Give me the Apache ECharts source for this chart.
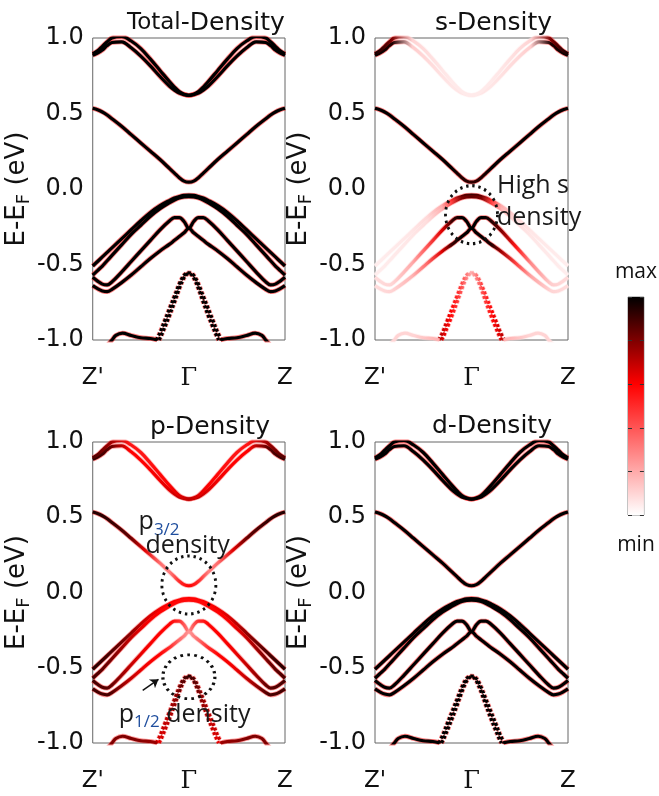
<!DOCTYPE html>
<html>
<head>
<meta charset="utf-8">
<script src="https://cdn.jsdelivr.net/npm/echarts@6/dist/echarts.min.js"></script>
<style>
  html, body { margin: 0; padding: 0; background: #fff; }
  #chart { width: 659px; height: 796px; }
</style>
</head>
<body>
<div id="chart"></div>
<script>
// ---- band structure along Z' - Γ - Z (k in units of the path, E - E_F in eV) ----
const K_FULL = [-1,-0.95,-0.9,-0.85,-0.8,-0.7,-0.6,-0.5,-0.4,-0.3,-0.2,-0.15,-0.1,-0.05,0,0.05,0.1,0.15,0.2,0.3,0.4,0.5,0.6,0.7,0.8,0.85,0.9,0.95,1];

const E_C1 = [0.885,0.9,0.92,0.95,0.97,0.975,0.935,0.88,0.815,0.745,0.68,0.655,0.635,0.625,0.62,0.625,0.635,0.655,0.68,0.745,0.815,0.88,0.935,0.975,0.97,0.95,0.92,0.9,0.885];
const E_C2 = [0.895,0.915,0.945,0.975,1.0,1.01,0.98,0.93,0.86,0.785,0.71,0.675,0.645,0.628,0.62,0.628,0.645,0.675,0.71,0.785,0.86,0.93,0.98,1.01,1.0,0.975,0.945,0.915,0.895];
const E_CB = [0.535,0.525,0.51,0.49,0.465,0.415,0.36,0.305,0.25,0.195,0.135,0.105,0.075,0.052,0.045,0.052,0.075,0.105,0.135,0.195,0.25,0.305,0.36,0.415,0.465,0.49,0.51,0.525,0.535];
const E_V1 = [-0.51,-0.48,-0.45,-0.42,-0.39,-0.33,-0.27,-0.21,-0.155,-0.11,-0.075,-0.06,-0.05,-0.042,-0.04,-0.042,-0.05,-0.06,-0.075,-0.11,-0.155,-0.21,-0.27,-0.33,-0.39,-0.42,-0.45,-0.48,-0.51];
const E_V2 = [-0.57,-0.54,-0.51,-0.475,-0.44,-0.37,-0.3,-0.24,-0.18,-0.13,-0.09,-0.073,-0.06,-0.053,-0.05,-0.053,-0.06,-0.073,-0.09,-0.13,-0.18,-0.24,-0.3,-0.37,-0.44,-0.475,-0.51,-0.54,-0.57];
const E_M1 = [-0.585,-0.61,-0.63,-0.635,-0.615,-0.55,-0.48,-0.41,-0.34,-0.27,-0.21,-0.19,-0.19,-0.215,-0.26,-0.215,-0.19,-0.19,-0.21,-0.27,-0.34,-0.41,-0.48,-0.55,-0.615,-0.635,-0.63,-0.61,-0.585];
const E_M2 = [-0.64,-0.66,-0.675,-0.68,-0.665,-0.62,-0.57,-0.515,-0.46,-0.41,-0.365,-0.34,-0.315,-0.29,-0.26,-0.29,-0.315,-0.34,-0.365,-0.41,-0.46,-0.515,-0.57,-0.62,-0.665,-0.68,-0.675,-0.66,-0.64];

// steep bands below the gap (drawn dotted)
const K_L1 = [-0.34,-0.3,-0.25,-0.2,-0.15,-0.1,-0.06,-0.03,0,0.03,0.06,0.1,0.15,0.2,0.25,0.3,0.34];
const E_L1 = [-1.0,-0.95,-0.87,-0.79,-0.71,-0.63,-0.58,-0.56,-0.555,-0.56,-0.58,-0.63,-0.71,-0.79,-0.87,-0.95,-1.0];
const K_L2 = [-0.31,-0.29,-0.25,-0.2,-0.15,-0.1,-0.06,-0.03,0,0.03,0.06,0.1,0.15,0.2,0.25,0.29,0.31];
const E_L2 = [-1.0,-0.975,-0.915,-0.835,-0.75,-0.66,-0.6,-0.57,-0.56,-0.57,-0.6,-0.66,-0.75,-0.835,-0.915,-0.975,-1.0];

// shallow band at the bottom edge
const K_BL = [-0.84,-0.8,-0.76,-0.69,-0.6,-0.5,-0.4,-0.33];
const E_BL = [-1.03,-1.0,-0.97,-0.955,-0.97,-0.985,-0.99,-1.0];
const K_BR = [0.33,0.4,0.5,0.6,0.69,0.76,0.8,0.84];
const E_BR = [-1.0,-0.99,-0.985,-0.97,-0.955,-0.97,-1.0,-1.03];

// k positions where the orbital weight is sampled
const W_NODES = [-1,-0.8,-0.6,-0.45,-0.3,-0.2,-0.1,0,0.1,0.2,0.3,0.45,0.6,0.8,1];
const W_NODES_L = [-0.34,-0.2,-0.1,0,0.1,0.2,0.34];
const W_NODES_BL = [-0.84,-0.6,-0.33];
const W_NODES_BR = [0.33,0.6,0.84];

// weights (0 = min, 1 = max), band order: C1, C2, CB, V1, V2, M1, M2, L1, L2, BL, BR
const W_TOTAL = [1,1,1,1,1,1,1,1,1,1,1];
const W_D = [1,1,1,1,1,1,1,1,1,1,1];
const W_S = [
  [1,0.95,0.12,0.09,0.07,0.06,0.06,0.06,0.06,0.06,0.07,0.09,0.12,0.95,1],
  [1,0.8,0.1,0.08,0.06,0.05,0.05,0.05,0.05,0.05,0.06,0.08,0.1,0.8,1],
  [1,1,1,1,1,1,0.95,0.92,0.95,1,1,1,1,1,1],
  [0.04,0.05,0.06,0.09,0.2,0.5,0.85,0.9,0.85,0.5,0.2,0.09,0.06,0.05,0.04],
  [0.04,0.05,0.06,0.08,0.18,0.45,0.8,0.85,0.8,0.45,0.18,0.08,0.06,0.05,0.04],
  [0.08,0.1,0.2,0.4,0.65,0.9,1,1,1,0.95,0.8,0.55,0.28,0.12,0.08],
  [0.08,0.1,0.18,0.35,0.65,0.9,1,1,1,0.95,0.75,0.45,0.22,0.1,0.08],
  [0.75,0.6,0.45,0.2,0.45,0.6,0.75],
  [0.7,0.58,0.42,0.2,0.42,0.58,0.7],
  [0.1,0.1,0.2],
  [0.2,0.1,0.1]
];
const W_P = [
  [0.95,0.85,0.6,0.6,0.62,0.65,0.7,0.75,0.7,0.65,0.62,0.6,0.6,0.85,0.95],
  [0.9,0.75,0.55,0.55,0.58,0.6,0.65,0.7,0.65,0.6,0.58,0.55,0.55,0.75,0.9],
  [0.95,0.92,0.85,0.65,0.35,0.3,0.5,0.6,0.5,0.3,0.35,0.65,0.85,0.92,0.95],
  [0.95,0.88,0.78,0.68,0.62,0.6,0.6,0.6,0.6,0.6,0.62,0.68,0.78,0.88,0.95],
  [0.9,0.82,0.7,0.62,0.6,0.58,0.58,0.58,0.58,0.58,0.6,0.62,0.7,0.82,0.9],
  [0.9,0.85,0.7,0.62,0.6,0.6,0.5,0.3,0.5,0.6,0.6,0.62,0.7,0.85,0.9],
  [0.9,0.88,0.7,0.62,0.6,0.5,0.35,0.25,0.35,0.5,0.6,0.62,0.7,0.88,0.9],
  [0.65,0.72,0.82,0.95,0.82,0.72,0.65],
  [0.62,0.7,0.8,0.92,0.8,0.7,0.62],
  [0.8,0.8,0.75],
  [0.75,0.8,0.8]
];

const PANEL_TITLES = ['Total-Density', 's-Density', 'p-Density', 'd-Density'];
const X_TICK_LABELS = ["Z'", 'Γ', 'Z'];
const Y_TICKS = [-1, -0.5, 0, 0.5, 1];
const COLORBAR_LABELS = ['max', 'min'];

// ---- build ----
const BANDS = [
  { k: K_FULL, e: E_C1, wk: W_NODES },
  { k: K_FULL, e: E_C2, wk: W_NODES },
  { k: K_FULL, e: E_CB, wk: W_NODES },
  { k: K_FULL, e: E_V1, wk: W_NODES },
  { k: K_FULL, e: E_V2, wk: W_NODES },
  { k: K_FULL, e: E_M1, wk: W_NODES },
  { k: K_FULL, e: E_M2, wk: W_NODES },
  { k: K_L1, e: E_L1, wk: W_NODES_L, dotted: true },
  { k: K_L2, e: E_L2, wk: W_NODES_L, dotted: true },
  { k: K_BL, e: E_BL, wk: W_NODES_BL },
  { k: K_BR, e: E_BR, wk: W_NODES_BR }
];
const PANEL_WEIGHTS = [W_TOTAL, W_S, W_P, W_D];

// white -> red (at 0.6) -> black
function cmap(w) {
  w = Math.max(0, Math.min(1, w));
  let r, g;
  if (w <= 0.6) { const t = w / 0.6; r = 255; g = Math.round(255 * (1 - t)); }
  else { const t = (w - 0.6) / 0.4; r = Math.round(255 * (1 - t)); g = 0; }
  return 'rgb(' + r + ',' + g + ',' + g + ')';
}

function bandColor(band, weights, fringe) {
  const f = w => cmap(fringe ? w * 0.6 : w);
  if (typeof weights === 'number') return f(weights);
  const k0 = band.k[0], k1 = band.k[band.k.length - 1];
  const stops = band.wk.map((kk, i) => ({
    offset: Math.max(0, Math.min(1, (kk - k0) / (k1 - k0))),
    color: f(weights[i])
  }));
  return new echarts.graphic.LinearGradient(0, 0, 1, 0, stops);
}

const GRIDS = [
  { left: 92, top: 38, width: 193, height: 302 },
  { left: 375, top: 38, width: 193, height: 302 },
  { left: 92, top: 442, width: 193, height: 301 },
  { left: 375, top: 442, width: 193, height: 301 }
];

const TXT = '#111';
const grid = GRIDS.map(g => Object.assign({ show: true, borderColor: '#666', borderWidth: 1, backgroundColor: '#fff' }, g));
grid.push({ left: 628, top: 297, width: 19, height: 218, show: true, borderColor: '#888', borderWidth: 1 });

const xAxis = GRIDS.map((g, i) => ({
  gridIndex: i, type: 'value', min: -1, max: 1, interval: 1,
  axisLine: { show: false }, axisTick: { show: false }, splitLine: { show: false },
  axisLabel: {
    margin: 27, fontSize: 23, color: TXT, fontFamily: 'DejaVu Sans',
    formatter: v => v === 0 ? '{g|' + X_TICK_LABELS[1] + '}' : (v < 0 ? X_TICK_LABELS[0] : X_TICK_LABELS[2]),
    rich: { g: { fontFamily: 'DejaVu Serif', fontSize: 24, color: TXT } }
  }
}));
xAxis.push({
  gridIndex: 4, type: 'category', data: ['bar'], axisLine: { show: false }, axisTick: { show: false }, axisLabel: { show: false },
  name: COLORBAR_LABELS[1], nameLocation: 'middle', nameGap: 20,
  nameTextStyle: { fontFamily: 'Open Sans', fontSize: 21, color: TXT }
});
xAxis.push({
  gridIndex: 4, type: 'category', position: 'top', data: ['bar'], axisLine: { show: false }, axisTick: { show: false }, axisLabel: { show: false },
  name: COLORBAR_LABELS[0], nameLocation: 'middle', nameGap: 14,
  nameTextStyle: { fontFamily: 'Open Sans', fontSize: 21, color: TXT }
});

const yAxis = GRIDS.map((g, i) => ({
  gridIndex: i, type: 'value', min: Y_TICKS[0], max: Y_TICKS[Y_TICKS.length - 1], interval: 0.5,
  axisLine: { show: false }, axisTick: { show: false }, splitLine: { show: false },
  axisLabel: { margin: 9, fontSize: 24, color: TXT, fontFamily: 'DejaVu Sans', formatter: v => v.toFixed(1) },
  name: 'E-E{sub|F} (eV)', nameLocation: 'middle', nameGap: 57,
  nameTextStyle: {
    fontSize: 26, color: TXT, fontFamily: 'DejaVu Sans', lineHeight: 32,
    rich: { sub: { fontSize: 18, lineHeight: 18, verticalAlign: 'bottom', color: TXT, fontFamily: 'DejaVu Sans' } }
  }
}));
const cbTicks = {
  gridIndex: 4, type: 'value', min: 0, max: 1, interval: 0.2, z: 5,
  axisLine: { show: false }, splitLine: { show: false }, axisLabel: { show: false },
  axisTick: { show: true, inside: true, length: 4, lineStyle: { color: '#333', width: 1 } }
};
yAxis.push(Object.assign({}, cbTicks));
yAxis.push(Object.assign({}, cbTicks, { position: 'right' }));

const series = [];
PANEL_WEIGHTS.forEach((pw, gi) => {
  BANDS.forEach((band, bi) => {
    const data = band.k.map((k, j) => [k, band.e[j]]);
    const dash = band.dotted ? [3, 2] : 'solid';
    const common = { type: 'line', xAxisIndex: gi, yAxisIndex: gi, data, smooth: 0.35, symbol: 'none', silent: true, animation: false };
    series.push(Object.assign({}, common, {
      z: 2, lineStyle: { width: 4.8, color: bandColor(band, pw[bi], true), opacity: 0.5, type: dash, cap: 'butt' }
    }));
    series.push(Object.assign({}, common, {
      z: 3, lineStyle: { width: 3.2, color: bandColor(band, pw[bi], false), opacity: 1, type: dash, cap: 'butt' }
    }));
  });
});

// dotted circles marking regions of interest
const ring = (gi, pts, size) => ({
  type: 'scatter', xAxisIndex: gi, yAxisIndex: gi, symbol: 'circle', symbolSize: size, silent: true, z: 6, animation: false,
  itemStyle: { color: 'rgba(0,0,0,0)', borderColor: '#111', borderWidth: 3, borderType: [2.5, 4], opacity: 1 },
  data: pts
});
series.push(ring(1, [[0, -0.17]], [52, 58]));
series.push(ring(2, [[0, 0.05]], [54, 58]));
series.push(ring(2, [[0, -0.56]], [52, 44]));

// text notes, anchored in data space
const note = (gi, items) => ({
  type: 'custom', xAxisIndex: gi, yAxisIndex: gi, silent: true, z: 7, animation: false,
  data: items.map(it => it.value),
  renderItem: (params, api) => {
    const p = api.coord([api.value(0), api.value(1)]);
    return {
      type: 'text', x: p[0], y: p[1],
      style: {
        text: items[params.dataIndex].name,
        fontFamily: 'Open Sans', fontSize: 25, fill: '#1a1a1a',
        verticalAlign: 'middle', align: 'left', lineHeight: 32,
        rich: { sub: { fontFamily: 'Open Sans', fontSize: 17, lineHeight: 17, verticalAlign: 'bottom', fill: '#1f4e9e' } }
      }
    };
  }
});
series.push(note(1, [{ name: 'High s', value: [0.264, 0.02] }, { name: 'density', value: [0.264, -0.19] }]));
series.push(note(2, [
  { name: 'p{sub|3/2}', value: [-0.523, 0.466] },
  { name: 'density', value: [-0.451, 0.313] },
  { name: 'p{sub|1/2} density', value: [-0.73, -0.81] }
]));

// arrow pointing at the p1/2 states
series.push({
  type: 'lines', coordinateSystem: 'cartesian2d', xAxisIndex: 2, yAxisIndex: 2, silent: true, z: 7, animation: false,
  symbol: ['none', 'arrow'], symbolSize: 8,
  lineStyle: { color: '#111', width: 1.5, opacity: 1 },
  data: [{ coords: [[-0.48, -0.65], [-0.316, -0.577]] }]
});

// colour scale bar
series.push({
  type: 'bar', xAxisIndex: 4, yAxisIndex: 4, data: [1], barWidth: '100%', silent: true, z: 2, animation: false,
  itemStyle: {
    color: new echarts.graphic.LinearGradient(0, 0, 0, 1, [
      { offset: 0, color: '#000' }, { offset: 0.4, color: '#f00' }, { offset: 1, color: '#fff' }
    ])
  }
});

const titleStyle = { fontSize: 25, fontWeight: 'normal', color: TXT, fontFamily: 'DejaVu Sans' };
const title = [
  { text: '{a|Total}-Density', left: 122, top: 6, textStyle: Object.assign({}, titleStyle, { rich: { a: { fontSize: 23, fontFamily: 'DejaVu Sans', color: TXT } } }) },
  { text: PANEL_TITLES[1], left: 430, top: 6, textStyle: titleStyle },
  { text: PANEL_TITLES[2], left: 145, top: 410, textStyle: titleStyle },
  { text: PANEL_TITLES[3], left: 427, top: 409, textStyle: titleStyle }
];

const chart = echarts.init(document.getElementById('chart'), null, { renderer: 'canvas' });
chart.setOption({ animation: false, backgroundColor: '#fff', title, grid, xAxis, yAxis, series });
</script>
</body>
</html>
